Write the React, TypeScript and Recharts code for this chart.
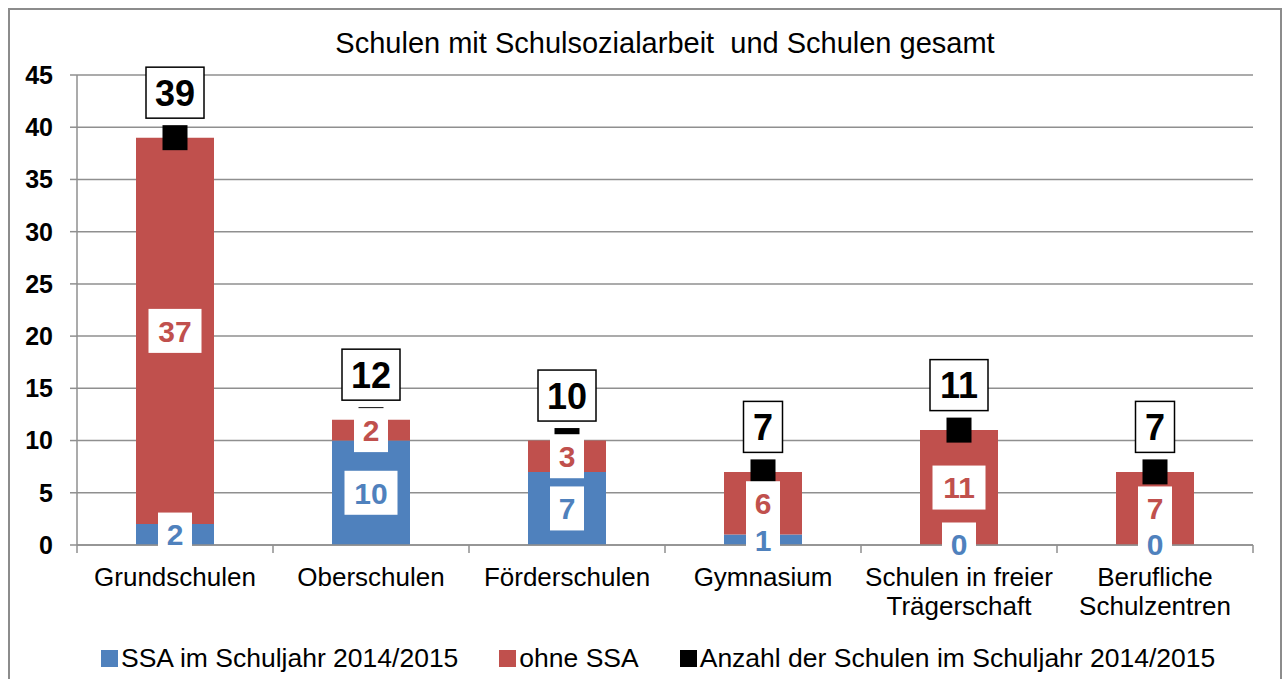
import React from 'react';
import { ComposedChart, Bar, Scatter, XAxis, YAxis, CartesianGrid, Legend, LabelList } from 'recharts';

const categories = [
  'Grundschulen',
  'Oberschulen',
  'Förderschulen',
  'Gymnasium',
  'Schulen in freier Trägerschaft',
  'Berufliche Schulzentren',
];
const tickLabelLines = [
  ['Grundschulen'],
  ['Oberschulen'],
  ['Förderschulen'],
  ['Gymnasium'],
  ['Schulen in freier', 'Trägerschaft'],
  ['Berufliche', 'Schulzentren'],
];
const mitSSA = [2, 10, 7, 1, 0, 0];
const ohneSSA = [37, 2, 3, 6, 11, 7];
const gesamt = [39, 12, 10, 7, 11, 7];
const yTicks = [0, 5, 10, 15, 20, 25, 30, 35, 40, 45];

const BLUE = '#4F81BD';
const RED = '#C0504D';
const GRID = '#8f8f8f';
const FONT = '"Liberation Sans", Arial, sans-serif';

const data = categories.map((name, i) => ({
  name,
  ssa: mitSSA[i],
  ohne: ohneSSA[i],
  gesamt: gesamt[i],
}));

const XTick = (props: any) => {
  const { x, y, payload } = props;
  const idx = categories.indexOf(payload.value);
  const lines = tickLabelLines[idx] || [payload.value];
  const half = 98;
  return (
    <g>
      <line x1={x - half} y1={y} x2={x - half} y2={y + 8} stroke={GRID} strokeWidth={1.5} />
      {idx === categories.length - 1 && (
        <line x1={x + half} y1={y} x2={x + half} y2={y + 8} stroke={GRID} strokeWidth={1.5} />
      )}
      <text x={x} y={y + 41} textAnchor="middle" fontSize={26} fontFamily={FONT} fill="#000">
        {lines.map((l, i) => (
          <tspan key={i} x={x} dy={i === 0 ? 0 : 29}>
            {l}
          </tspan>
        ))}
      </text>
    </g>
  );
};

const segmentLabel = (color: string) => (props: any) => {
  const { x, y, width, height, value } = props;
  if (value == null) return null;
  const cx = Number(x) + Number(width) / 2;
  const cy = Number(y) + Number(height) / 2;
  const w = String(value).length > 1 ? 53 : 34;
  return (
    <g>
      <rect x={cx - w / 2} y={cy - 22} width={w} height={44} fill="#fff" />
      <text
        x={cx}
        y={cy}
        dy="0.36em"
        textAnchor="middle"
        fontSize={30}
        fontWeight="bold"
        fontFamily={FONT}
        fill={color}
      >
        {value}
      </text>
    </g>
  );
};

const TotalMarker = (props: any) => {
  const { cx, cy, payload } = props;
  const v = payload.gesamt;
  const w = String(v).length > 1 ? 58 : 39;
  return (
    <g>
      <rect x={cx - 12.5} y={cy - 12.5} width={25} height={25} fill="#000" />
      <rect x={cx - w / 2} y={cy - 45 - 25.5} width={w} height={51} fill="#fff" stroke="#000" strokeWidth={1.5} />
      <text
        x={cx}
        y={cy - 45}
        dy="0.36em"
        textAnchor="middle"
        fontSize={36}
        fontWeight="bold"
        fontFamily={FONT}
        fill="#000"
      >
        {v}
      </text>
    </g>
  );
};

const legendItems = [
  { label: 'SSA im Schuljahr 2014/2015', color: BLUE },
  { label: 'ohne SSA', color: RED },
  { label: 'Anzahl der Schulen im Schuljahr 2014/2015', color: '#000' },
];

const LegendContent = () => (
  <div
    style={{
      display: 'flex',
      alignItems: 'center',
      height: 50,
      paddingTop: 16,
      paddingLeft: 91,
      boxSizing: 'border-box',
      fontFamily: FONT,
      fontSize: 26.5,
      color: '#000',
      whiteSpace: 'nowrap',
    }}
  >
    {legendItems.map((it) => (
      <div key={it.label} style={{ display: 'flex', alignItems: 'center', marginRight: 41 }}>
        <span style={{ display: 'inline-block', width: 17, height: 17, background: it.color, marginRight: 3 }} />
        <span>{it.label}</span>
      </div>
    ))}
  </div>
);

export default function App() {
  return (
    <div style={{ position: 'fixed', left: 0, top: 0, width: 1287, height: 679, overflow: 'hidden', background: '#fff' }}>
      <div
        style={{
          position: 'absolute',
          left: 8,
          top: 8,
          width: 1274,
          height: 704,
          border: '2px solid #8c8c8c',
          boxSizing: 'border-box',
        }}
      >
        <div
          style={{
            position: 'absolute',
            left: 0,
            top: 17,
            width: 1310,
            textAlign: 'center',
            fontFamily: FONT,
            fontSize: 29,
            color: '#000',
            whiteSpace: 'pre',
          }}
        >
          {'Schulen mit Schulsozialarbeit  und Schulen gesamt'}
        </div>
        <ComposedChart
          width={1270}
          height={700}
          data={data}
          margin={{ top: 65, right: 27, bottom: 35, left: 0 }}
        >
          <CartesianGrid xAxisId="main" horizontal vertical={false} stroke={GRID} strokeWidth={1.5} />
          <XAxis xAxisId="lbl" dataKey="name" hide height={0} />
          <XAxis
            xAxisId="main"
            dataKey="name"
            height={80}
            interval={0}
            stroke={GRID}
            strokeWidth={1.5}
            tickLine={false}
            tickSize={0}
            tickMargin={0}
            tick={<XTick />}
          />
          <YAxis
            width={67}
            domain={[0, 45]}
            ticks={yTicks}
            interval={0}
            stroke={GRID}
            strokeWidth={1.5}
            tickSize={7}
            tickMargin={17}
            tick={{ fontSize: 25, fontWeight: 'bold', fill: '#000', fontFamily: FONT }}
          />
          <Legend verticalAlign="bottom" height={50} content={<LegendContent />} />
          <Bar xAxisId="main" dataKey="ssa" stackId="a" fill={BLUE} barSize={78} isAnimationActive={false} />
          <Bar xAxisId="main" dataKey="ohne" stackId="a" fill={RED} barSize={78} isAnimationActive={false} />
          <Scatter xAxisId="main" dataKey="gesamt" shape={<TotalMarker />} isAnimationActive={false} />
          <Bar
            xAxisId="lbl"
            dataKey="ssa"
            stackId="b"
            fill="none"
            barSize={78}
            minPointSize={1}
            isAnimationActive={false}
            legendType="none"
          >
            <LabelList dataKey="ssa" content={segmentLabel(BLUE)} />
          </Bar>
          <Bar
            xAxisId="lbl"
            dataKey="ohne"
            stackId="b"
            fill="none"
            barSize={78}
            isAnimationActive={false}
            legendType="none"
          >
            <LabelList dataKey="ohne" content={segmentLabel(RED)} />
          </Bar>
        </ComposedChart>
      </div>
    </div>
  );
}
